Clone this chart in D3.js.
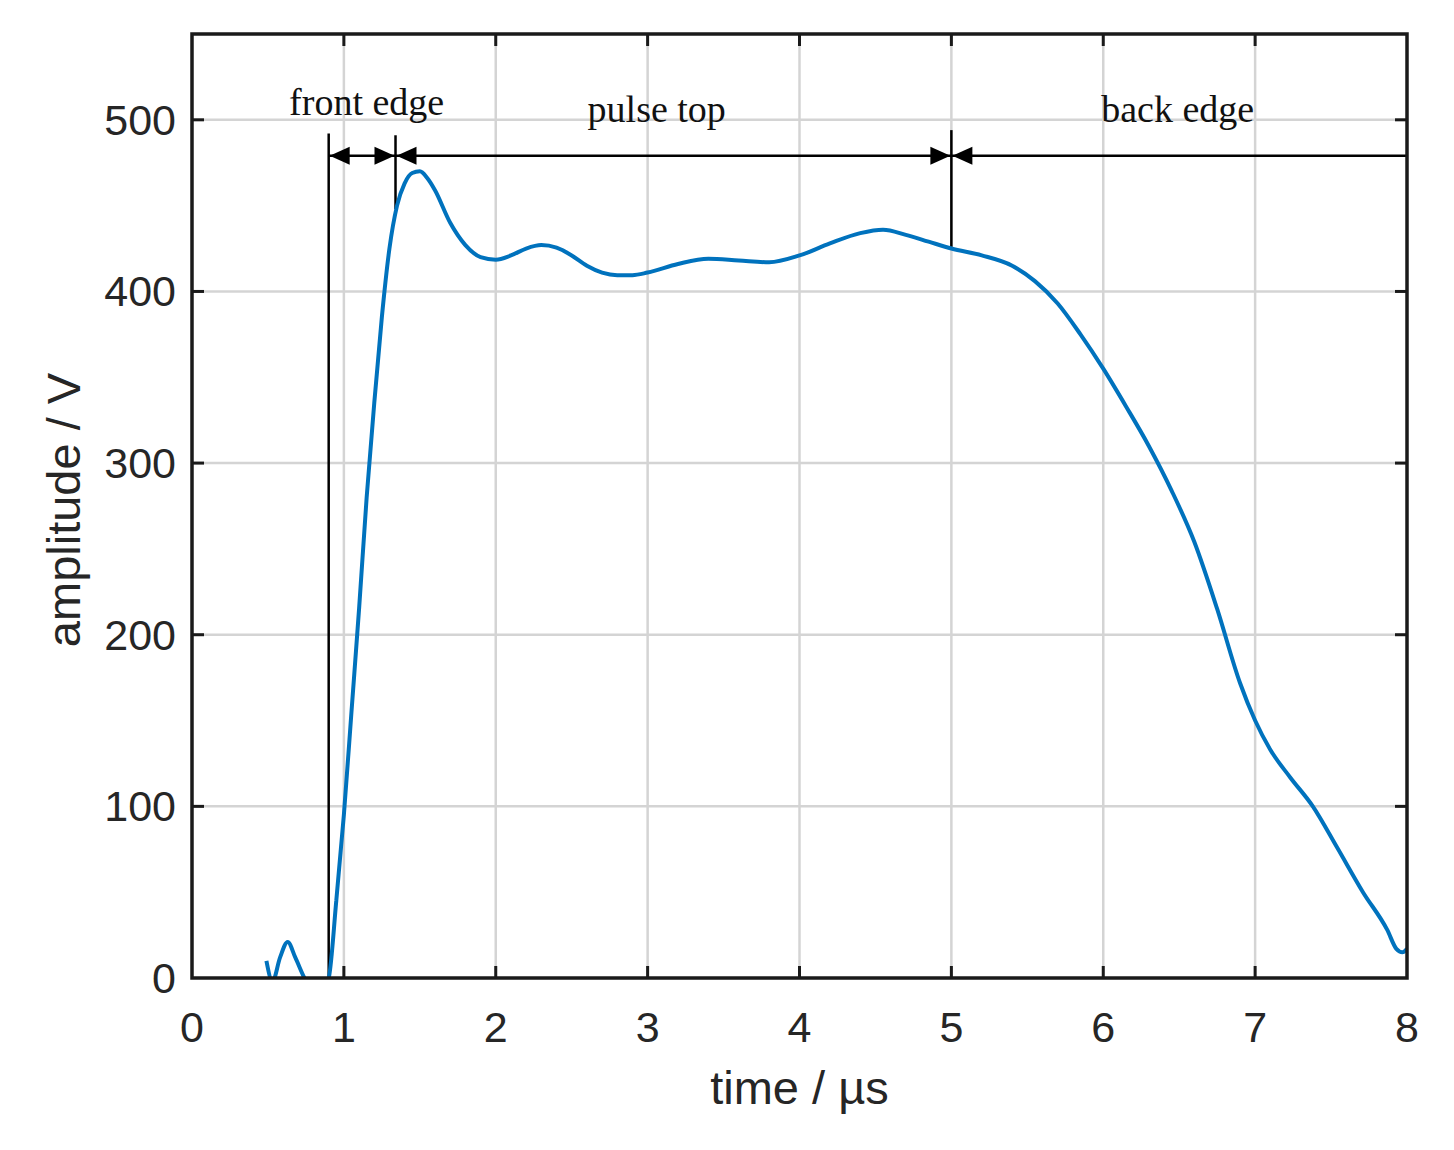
<!DOCTYPE html>
<html>
<head>
<meta charset="utf-8">
<script src="https://cdn.jsdelivr.net/npm/d3@7"></script>
<style>
  html, body { margin: 0; padding: 0; background: #ffffff; }
  svg { display: block; }
</style>
</head>
<body>
<svg id="chart" width="1454" height="1150"></svg>
<script>
// ---- data ----
const time = [0.49, 0.53, 0.58, 0.63, 0.68, 0.74, 0.82, 0.90, 0.95, 1.00, 1.05, 1.10, 1.15, 1.20, 1.25, 1.30, 1.35, 1.40, 1.45, 1.50,
  1.55, 1.60, 1.70, 1.80, 1.90, 2.00, 2.10, 2.20, 2.30, 2.40, 2.50, 2.60, 2.70, 2.80, 2.90, 3.00, 3.20, 3.40, 3.60, 3.80,
  4.00, 4.20, 4.40, 4.55, 4.70, 4.85, 5.00, 5.20, 5.40, 5.55, 5.70, 5.85, 6.00, 6.15, 6.30, 6.45, 6.60, 6.75, 6.90, 7.00,
  7.10, 7.23, 7.38, 7.54, 7.71, 7.87, 7.93, 7.97, 8.00];
const amplitude = [10, -2, 12, 21, 12, 0, -12, 0, 45, 95, 155, 215, 280, 335, 385, 425, 450, 463, 469, 470,
  466, 459, 440, 427, 420, 418.5, 421, 425, 427, 425.5, 421, 415, 411, 409.5, 409.5, 411, 416, 419, 418, 417,
  421, 428, 434, 436, 433, 429, 425, 421, 415, 406, 393, 375, 355, 333, 310, 284, 254, 215, 172, 150,
  133, 117, 100, 76, 50, 28, 17, 15, 17];

const xTicks = [0, 1, 2, 3, 4, 5, 6, 7, 8];
const yTicks = [0, 100, 200, 300, 400, 500];

// annotation: boundaries (µs) and their marker line extents (V)
const markerTimes = [0.9, 1.34, 5.0];
const markerTop = [492, 491, 494];
const markerBottom = [0, 448, 426];
const arrowLevel = 479;
const regionLabels = ["front edge", "pulse top", "back edge"];
const regionLabelX = [1.15, 3.06, 6.49];
const regionLabelY = [503, 499, 499];

// ---- layout ----
const svg = d3.select("#chart");
const L = 192, T = 34, R = 1407, B = 978;
const x = d3.scaleLinear().domain([0, 8]).range([L, R]);
const y = d3.scaleLinear().domain([0, 550]).range([B, T]);

const gridColor = "#d4d4d4";
const axisColor = "#1a1a1a";
const textColor = "#262626";

// grid
const grid = svg.append("g");
grid.selectAll(".gx").data(xTicks.slice(1, -1)).enter().append("line")
  .attr("x1", d => x(d)).attr("x2", d => x(d)).attr("y1", T).attr("y2", B)
  .attr("stroke", gridColor).attr("stroke-width", 2.5);
grid.selectAll(".gy").data(yTicks.slice(1)).enter().append("line")
  .attr("x1", L).attr("x2", R).attr("y1", d => y(d)).attr("y2", d => y(d))
  .attr("stroke", gridColor).attr("stroke-width", 2.5);

// clip
svg.append("clipPath").attr("id", "plotclip").append("rect")
  .attr("x", L).attr("y", T).attr("width", R - L).attr("height", B - T);

// annotations (behind curve)
const ann = svg.append("g");
markerTimes.forEach((t, i) => {
  ann.append("line")
    .attr("x1", x(t)).attr("x2", x(t))
    .attr("y1", y(markerTop[i])).attr("y2", y(markerBottom[i]))
    .attr("stroke", "#000").attr("stroke-width", 2.5);
});
ann.append("line")
  .attr("x1", x(markerTimes[0])).attr("x2", R)
  .attr("y1", y(arrowLevel)).attr("y2", y(arrowLevel))
  .attr("stroke", "#000").attr("stroke-width", 2.5);

function arrowHead(tipX, dir) {
  // dir = -1 points left, +1 points right
  const yy = y(arrowLevel);
  const len = 20, half = 9;
  ann.append("path")
    .attr("d", `M${tipX},${yy} L${tipX - dir * len},${yy - half} L${tipX - dir * len},${yy + half} Z`)
    .attr("fill", "#000");
}
arrowHead(x(markerTimes[0]) + 1, -1);
arrowHead(x(markerTimes[1]) - 1, 1);
arrowHead(x(markerTimes[1]) + 1, -1);
arrowHead(x(markerTimes[2]) - 1, 1);
arrowHead(x(markerTimes[2]) + 1, -1);

ann.selectAll(".rl").data(regionLabels).enter().append("text")
  .attr("x", (d, i) => x(regionLabelX[i]))
  .attr("y", (d, i) => y(regionLabelY[i]))
  .attr("text-anchor", "middle")
  .attr("font-family", "'Liberation Serif', 'Times New Roman', serif")
  .attr("font-size", 38)
  .attr("fill", "#111")
  .text(d => d);

// curve
const line = d3.line()
  .x((d, i) => x(time[i]))
  .y((d, i) => y(amplitude[i]))
  .curve(d3.curveMonotoneX);
svg.append("path")
  .datum(amplitude)
  .attr("clip-path", "url(#plotclip)")
  .attr("d", line)
  .attr("fill", "none")
  .attr("stroke", "#0072BD")
  .attr("stroke-width", 4)
  .attr("stroke-linejoin", "round");

// axes box and ticks
const tickLen = 12;
const ax = svg.append("g");
ax.selectAll(".tb").data(xTicks.slice(1, -1)).enter().append("line")
  .attr("x1", d => x(d)).attr("x2", d => x(d)).attr("y1", B).attr("y2", B - tickLen)
  .attr("stroke", axisColor).attr("stroke-width", 3);
ax.selectAll(".tt").data(xTicks.slice(1, -1)).enter().append("line")
  .attr("x1", d => x(d)).attr("x2", d => x(d)).attr("y1", T).attr("y2", T + tickLen)
  .attr("stroke", axisColor).attr("stroke-width", 3);
ax.selectAll(".tl").data(yTicks.slice(1)).enter().append("line")
  .attr("x1", L).attr("x2", L + tickLen).attr("y1", d => y(d)).attr("y2", d => y(d))
  .attr("stroke", axisColor).attr("stroke-width", 3);
ax.selectAll(".tr").data(yTicks.slice(1)).enter().append("line")
  .attr("x1", R).attr("x2", R - tickLen).attr("y1", d => y(d)).attr("y2", d => y(d))
  .attr("stroke", axisColor).attr("stroke-width", 3);
ax.append("rect")
  .attr("x", L).attr("y", T).attr("width", R - L).attr("height", B - T)
  .attr("fill", "none").attr("stroke", axisColor).attr("stroke-width", 3.5);

// tick labels
const font = "'Liberation Sans', Arial, Helvetica, sans-serif";
ax.selectAll(".xl").data(xTicks).enter().append("text")
  .attr("x", d => x(d)).attr("y", B + 64)
  .attr("text-anchor", "middle")
  .attr("font-family", font).attr("font-size", 43).attr("fill", textColor)
  .text(d => d);
ax.selectAll(".yl").data(yTicks).enter().append("text")
  .attr("x", L - 16).attr("y", d => y(d) + 15)
  .attr("text-anchor", "end")
  .attr("font-family", font).attr("font-size", 43).attr("fill", textColor)
  .text(d => d);

// axis titles
svg.append("text")
  .attr("x", (L + R) / 2).attr("y", 1104)
  .attr("text-anchor", "middle")
  .attr("font-family", font).attr("font-size", 47).attr("fill", textColor)
  .text("time / µs");
svg.append("text")
  .attr("transform", "translate(80,510) rotate(-90)")
  .attr("text-anchor", "middle")
  .attr("font-family", font).attr("font-size", 47).attr("fill", textColor)
  .text("amplitude / V");
</script>
</body>
</html>
